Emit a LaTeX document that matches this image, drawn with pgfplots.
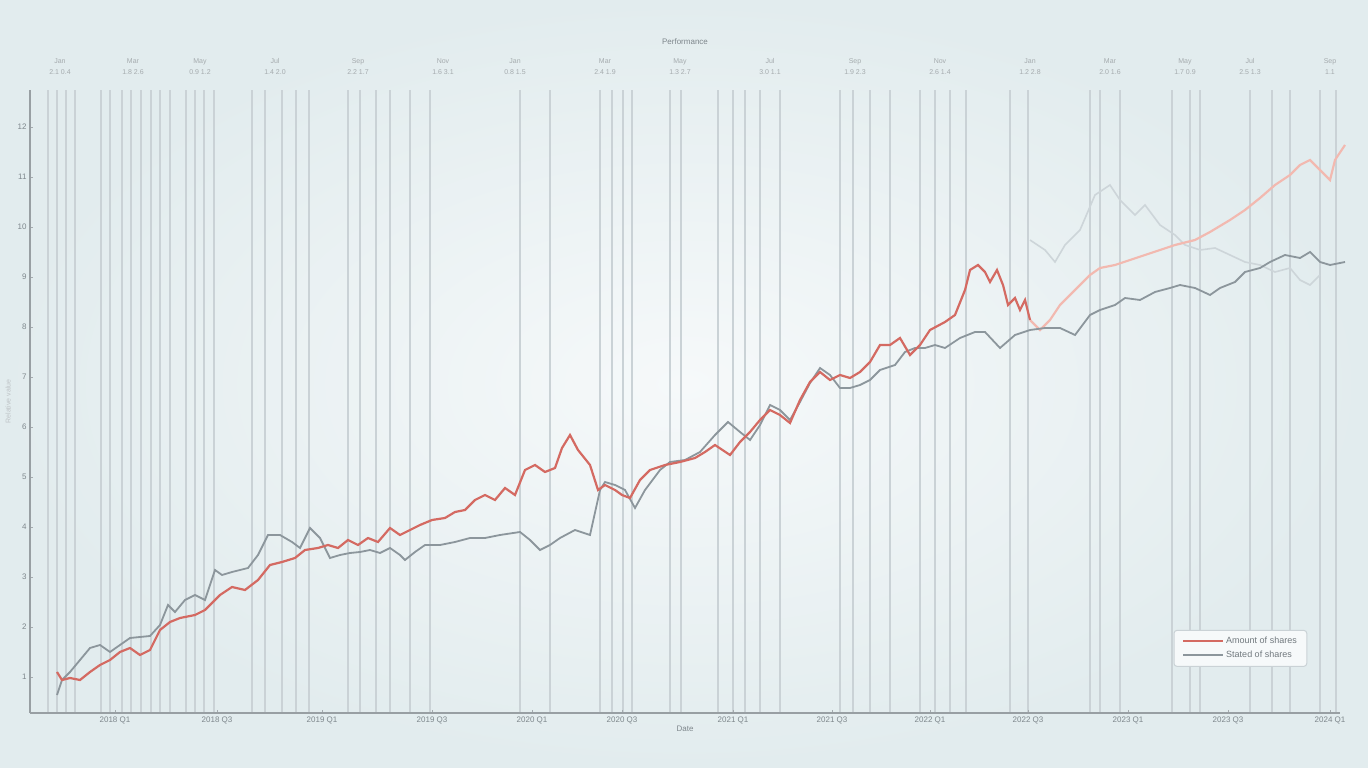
\documentclass[border=0pt]{standalone}
\usepackage{pgfplots}
\pgfplotsset{compat=1.18}
\usepackage{fontspec}
\setmainfont{Liberation Sans}
\definecolor{bgout}{HTML}{E2ECEE}
\definecolor{bgin}{HTML}{F6F9FA}
\definecolor{redl}{HTML}{D46A62}
\definecolor{redf}{HTML}{F2B9B0}
\definecolor{grayl}{HTML}{8C969C}
\definecolor{ghost}{HTML}{CDD5D9}
\definecolor{gridc}{HTML}{CAD2D6}
\definecolor{txt}{HTML}{7E878C}

\pgfplotstableread{
x y
1.7 1.10
2.2 0.94
3.0 0.98
4.0 0.94
5.0 1.10
6.0 1.24
7.0 1.34
8.0 1.50
9.0 1.58
10.0 1.44
11.0 1.54
12.0 1.94
13.0 2.10
14.0 2.18
15.5 2.24
16.5 2.34
18.0 2.64
19.2 2.80
20.5 2.74
21.8 2.94
23.0 3.24
24.2 3.30
25.5 3.38
26.5 3.54
27.8 3.58
28.8 3.64
29.8 3.58
30.8 3.74
31.8 3.64
32.8 3.78
33.8 3.70
35.0 3.98
36.0 3.84
37.0 3.94
38.0 4.04
39.2 4.14
40.5 4.18
41.5 4.30
42.5 4.34
43.5 4.54
44.5 4.64
45.5 4.54
46.5 4.78
47.5 4.64
48.5 5.14
49.5 5.24
50.5 5.10
51.5 5.18
52.2 5.58
53.0 5.84
53.8 5.54
55.0 5.24
55.8 4.74
56.5 4.84
57.5 4.74
58.2 4.64
59.0 4.58
60.0 4.94
61.0 5.14
62.5 5.24
64.0 5.30
65.5 5.38
66.5 5.50
67.5 5.64
69.0 5.44
70.0 5.70
71.0 5.90
72.0 6.14
73.0 6.34
74.0 6.24
75.0 6.08
76.0 6.54
77.0 6.90
78.0 7.10
79.0 6.94
80.0 7.04
81.0 6.98
82.0 7.10
83.0 7.30
84.0 7.64
85.0 7.64
86.0 7.78
87.0 7.44
88.0 7.64
89.0 7.94
90.5 8.10
91.5 8.24
92.5 8.74
93.0 9.14
93.8 9.24
94.5 9.10
95.0 8.90
95.7 9.14
96.3 8.84
96.8 8.44
97.5 8.58
98.0 8.34
98.5 8.54
99.0 8.14
}\redA

\pgfplotstableread{
x y
99.0 8.14
100.0 7.94
101.0 8.14
102.0 8.44
103.5 8.74
105.0 9.04
106.0 9.18
107.5 9.24
109.0 9.34
110.5 9.44
112.0 9.54
113.5 9.64
115.5 9.74
117.0 9.90
119.0 10.14
120.5 10.34
122.0 10.58
123.5 10.84
125.0 11.04
126.0 11.24
127.0 11.34
128.0 11.14
129.0 10.94
129.5 11.34
130.5 11.64
}\redB

\pgfplotstableread{
x y
1.7 0.64
2.2 0.94
3.0 1.10
4.0 1.34
5.0 1.58
6.0 1.64
7.0 1.50
8.0 1.64
9.0 1.78
10.0 1.80
11.0 1.82
12.0 2.04
12.8 2.44
13.5 2.30
14.5 2.54
15.5 2.64
16.5 2.54
17.5 3.14
18.2 3.04
19.2 3.10
20.8 3.18
21.8 3.44
22.8 3.84
24.0 3.84
25.2 3.70
26.0 3.58
27.0 3.98
28.0 3.78
29.0 3.38
30.0 3.44
31.0 3.48
32.0 3.50
33.0 3.54
34.0 3.48
35.0 3.58
36.0 3.44
36.5 3.34
37.5 3.50
38.5 3.64
40.0 3.64
41.5 3.70
43.0 3.78
44.5 3.78
46.0 3.84
48.0 3.90
49.0 3.74
50.0 3.54
51.0 3.64
52.0 3.78
53.5 3.94
55.0 3.84
56.0 4.74
56.5 4.90
57.5 4.84
58.5 4.74
59.5 4.38
60.5 4.74
62.0 5.14
63.0 5.30
64.5 5.34
66.0 5.50
67.5 5.84
68.8 6.10
70.0 5.90
71.0 5.74
72.0 6.04
73.0 6.44
74.0 6.34
75.0 6.14
76.0 6.50
77.0 6.88
78.0 7.18
79.0 7.04
80.0 6.78
81.0 6.78
82.0 6.84
83.0 6.94
84.0 7.14
85.5 7.24
86.5 7.50
87.5 7.58
88.5 7.58
89.5 7.64
90.5 7.58
92.0 7.78
93.5 7.90
94.5 7.90
96.0 7.58
97.5 7.84
99.0 7.94
100.5 7.98
102.0 7.98
103.5 7.84
105.0 8.24
106.0 8.34
107.5 8.44
108.5 8.58
110.0 8.54
111.5 8.70
113.0 8.78
114.0 8.84
115.5 8.78
117.0 8.64
118.0 8.78
119.5 8.90
120.5 9.10
122.0 9.18
123.0 9.30
124.5 9.44
126.0 9.38
127.0 9.50
128.0 9.30
129.0 9.24
130.5 9.30
}\grayA

\pgfplotstableread{
x y
99.0 9.74
100.5 9.54
101.5 9.30
102.5 9.64
104.0 9.94
105.5 10.64
107.0 10.84
108.0 10.54
109.5 10.24
110.5 10.44
112.0 10.04
113.5 9.84
114.5 9.64
116.0 9.54
117.5 9.58
119.0 9.44
120.5 9.30
122.0 9.24
123.5 9.10
125.0 9.18
126.0 8.94
127.0 8.84
128.0 9.04
}\ghostA

\begin{document}
\begin{tikzpicture}
\shade[inner color=bgin, outer color=bgout] (0,0) rectangle (1368pt,768pt);
\useasboundingbox (0,0) rectangle (1368pt,768pt);
% top secondary axis with two-line labels
\begin{axis}[
  at={(30pt,55pt)}, anchor=south west, scale only axis,
  width=1310pt, height=623pt,
  xmin=-1, xmax=130, ymin=0.28, ymax=12.74,
  axis x line*=top, axis y line=none,
  axis line style={draw=none},
  xtick={2.0,9.3,16.0,23.5,31.8,40.3,47.5,56.5,64.0,73.0,81.5,90.0,99.0,107.0,114.5,121.0,129.0},
  xticklabels={{Jan\\2.1 0.4},{Mar\\1.8 2.6},{May\\0.9 1.2},{Jul\\1.4 2.0},{Sep\\2.2 1.7},{Nov\\1.6 3.1},{Jan\\0.8 1.5},{Mar\\2.4 1.9},{May\\1.3 2.7},{Jul\\3.0 1.1},{Sep\\1.9 2.3},{Nov\\2.6 1.4},{Jan\\1.2 2.8},{Mar\\2.0 1.6},{May\\1.7 0.9},{Jul\\2.5 1.3},{Sep\\1.1}},
  major tick length=0pt,
  xticklabel style={font=\fontsize{7}{11}\selectfont, text=txt!70, align=center, yshift=12pt},
  title={Performance},
  title style={font=\fontsize{8}{9}\selectfont, text=txt, yshift=36pt},
]
\addplot[draw=none, forget plot] coordinates {(0,1)};
\end{axis}
% main axis
\begin{axis}[
  at={(30pt,55pt)}, anchor=south west, scale only axis,
  width=1310pt, height=623pt,
  xmin=-1, xmax=130, ymin=0.28, ymax=12.74,
  clip=false,
  axis x line*=bottom, axis y line*=left,
  axis line style={draw=txt!80, line width=1.2pt},
  xtick={7.5,17.7,28.2,39.2,49.2,58.2,69.3,79.2,89.0,98.8,108.8,118.8,129.0},
  xticklabels={2018 Q1,2018 Q3,2019 Q1,2019 Q3,2020 Q1,2020 Q3,2021 Q1,2021 Q3,2022 Q1,2022 Q3,2023 Q1,2023 Q3,2024 Q1},
  ytick={1,2,...,12},
  major tick length=3pt,
  tick style={draw=txt!70, line width=0.8pt},
  minor xtick={0.8,1.7,2.6,3.5,6.1,7.0,8.2,9.1,10.1,11.1,12.0,13.0,14.6,15.5,16.4,17.4,21.2,22.5,24.2,25.6,26.9,30.8,32.0,33.6,35.0,37.0,39.0,48.0,51.0,56.0,57.2,58.3,59.2,63.0,64.1,67.8,69.3,70.5,72.0,74.0,80.0,81.3,83.0,85.0,88.0,89.5,91.0,92.6,97.0,98.8,105.0,106.0,108.0,113.2,115.0,116.0,121.0,123.2,125.0,128.0,129.6},
  minor tick length=0pt,
  xminorgrids,
  minor grid style={draw=gridc, line width=1.2pt},
  tick label style={text=txt, font=\fontsize{8}{9}\selectfont},
  /pgf/number format/assume math mode=true,
  xlabel={Date},
  xlabel style={font=\fontsize{8}{9}\selectfont, text=txt, yshift=4pt},
  ylabel={Relative value},
  ylabel style={font=\fontsize{7}{8}\selectfont, text=txt!50},
  legend style={at={(0.975,0.074)}, anchor=south east, draw=gridc, line width=1pt, fill=bgin, rounded corners=3pt, font=\fontsize{9}{11}\selectfont, text=txt!90!black, inner xsep=8pt, inner ysep=5pt, row sep=2pt},
  legend cell align=left,
  legend image code/.code={\draw[#1] (0pt,0pt) -- (40pt,0pt);},
]
\addplot[ghost, line width=1.6pt, forget plot] table {\ghostA};
\addplot[redf, line width=2.2pt, forget plot] table {\redB};
\addplot[grayl, line width=1.8pt, forget plot] table {\grayA};
\addplot[redl, line width=2.2pt] table {\redA};
\addlegendentry{Amount of shares}
\addlegendimage{grayl, line width=1.8pt}
\addlegendentry{Stated of shares}
\end{axis}
\end{tikzpicture}
\end{document}
